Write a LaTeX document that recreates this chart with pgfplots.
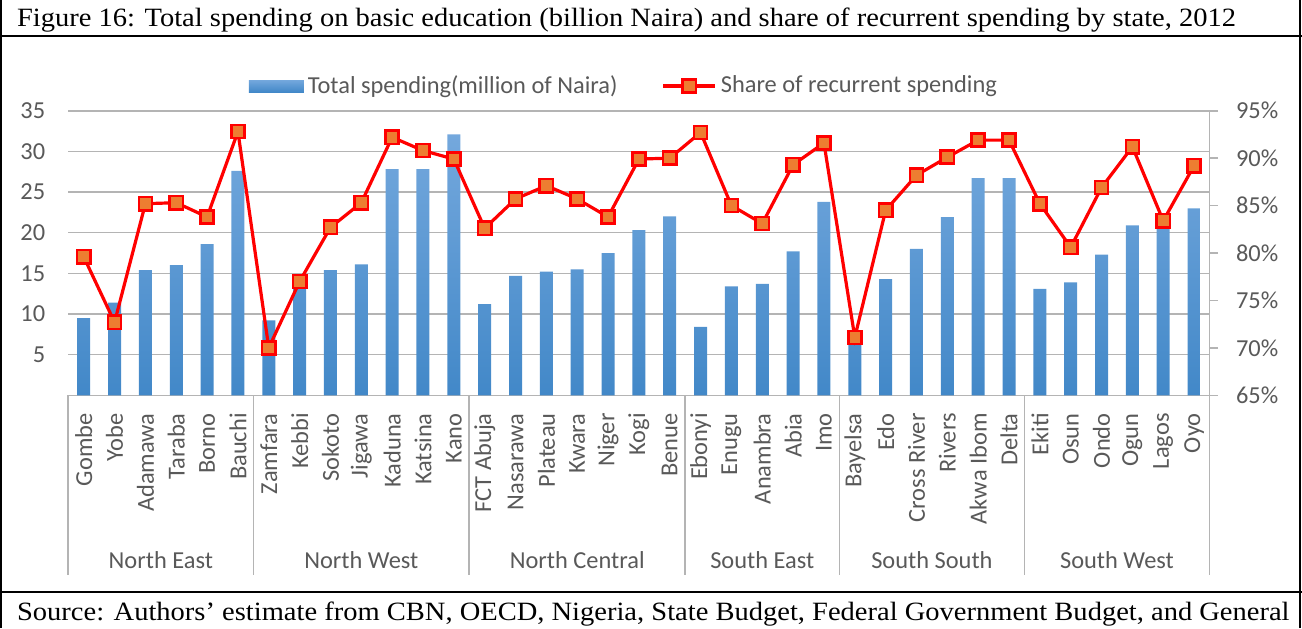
\documentclass[border=0pt]{standalone}
\usepackage{fontspec}
\setmainfont{Carlito}
\newfontfamily\serif[FakeStretch=1.08]{Liberation Serif}
\usepackage{pgfplots}
\pgfplotsset{compat=1.18}
\usepackage{pgfplotstable}

\definecolor{txt}{RGB}{89,89,89}
\definecolor{gridc}{RGB}{180,180,180}
\definecolor{bartop}{RGB}{116,168,221}
\definecolor{barmid}{RGB}{91,155,213}
\definecolor{barbot}{RGB}{66,136,200}
\definecolor{lred}{RGB}{255,0,0}
\definecolor{mkfill}{RGB}{237,125,49}

% spend: billion Naira (left axis), share: % recurrent (right axis)
\pgfplotstableread{
idx spend share
0  9.5  79.6
1  11.4 72.7
2  15.4 85.2
3  16.0 85.3
4  18.6 83.8
5  27.6 92.8
6  9.2  70.0
7  13.5 77.0
8  15.4 82.7
9  16.1 85.3
10 27.8 92.2
11 27.8 90.8
12 32.1 89.9
13 11.2 82.6
14 14.7 85.7
15 15.2 87.1
16 15.5 85.7
17 17.5 83.8
18 20.3 89.9
19 22.0 90.0
20 8.4  92.7
21 13.4 85.0
22 13.7 83.1
23 17.7 89.3
24 23.8 91.6
25 7.0  71.1
26 14.3 84.5
27 18.0 88.2
28 21.9 90.1
29 26.7 91.9
30 26.7 91.9
31 13.1 85.2
32 13.9 80.6
33 17.3 86.9
34 20.9 91.2
35 21.5 83.4
36 23.0 89.2
}\statedata

\newcommand{\cf}{\fontsize{12.2}{14}\selectfont}

\begin{document}
\begin{tikzpicture}
\useasboundingbox (0,0) rectangle (651pt,314pt);

% frame of the table cell
\draw[line width=1pt] (0.5pt,0) -- (0.5pt,314pt);
\draw[line width=1pt] (650.2pt,0) -- (650.2pt,314pt);
\draw[line width=1pt] (0,296pt) -- (651pt,296pt);
\draw[line width=1pt] (0,18.15pt) -- (651pt,18.15pt);
\node[anchor=base west, inner sep=0, font=\serif\fontsize{13.2}{15}\selectfont]
  at (8.35pt,300.65pt) {Figure 16: Total spending on basic education (billion Naira) and share of recurrent spending by state, 2012};
\node[anchor=base west, inner sep=0, font=\serif\fontsize{13.2}{15}\selectfont]
  at (8.35pt,4pt) {Source: Authors’ estimate from CBN, OECD, Nigeria, State Budget, Federal Government Budget, and General};

\begin{axis}[
  at={(34.15pt,116.35pt)}, anchor=south west,
  scale only axis, width=570.6pt, height=142.3pt,
  xmin=-0.5, xmax=36.5, ymin=0, ymax=35,
  axis x line*=bottom, axis y line*=left,
  y axis line style={draw=none},
  x axis line style={gridc, line width=0.8pt},
  ytick={5,10,...,35},
  ymajorgrids, grid style={gridc, line width=0.8pt},
  major tick length=0pt,
  xtick={0,...,36},
  xticklabels={Gombe,Yobe,Adamawa,Taraba,Borno,Bauchi,
    Zamfara,Kebbi,Sokoto,Jigawa,Kaduna,Katsina,Kano,
    FCT Abuja,Nasarawa,Plateau,Kwara,Niger,Kogi,Benue,
    Ebonyi,Enugu,Anambra,Abia,Imo,
    Bayelsa,Edo,Cross River,Rivers,Akwa Ibom,Delta,
    Ekiti,Osun,Ondo,Ogun,Lagos,Oyo},
  xticklabel shift=5.5pt,
  xticklabel style={rotate=90, anchor=east, font=\cf, text=txt},
  yticklabel style={anchor=east, xshift=-8pt, font=\cf, text=txt},
  /pgf/number format/assume math mode=true,
  clip=false,
]
\addplot[ybar, bar width=6.5pt, draw=none,
  top color=bartop, middle color=barmid, bottom color=barbot]
  table[x=idx, y=spend] {\statedata};

\draw[gridc, line width=0.8pt] (axis cs:-0.5,0) -- (axis cs:-0.5,-22.1);
\draw[gridc, line width=0.8pt] (axis cs:5.5,0) -- (axis cs:5.5,-22.1);
\draw[gridc, line width=0.8pt] (axis cs:12.5,0) -- (axis cs:12.5,-22.1);
\draw[gridc, line width=0.8pt] (axis cs:19.5,0) -- (axis cs:19.5,-22.1);
\draw[gridc, line width=0.8pt] (axis cs:24.5,0) -- (axis cs:24.5,-22.1);
\draw[gridc, line width=0.8pt] (axis cs:30.5,0) -- (axis cs:30.5,-22.1);
\draw[gridc, line width=0.8pt] (axis cs:36.5,0) -- (axis cs:36.5,-22.1);

\node[text=txt, font=\cf] at (axis cs:2.5,-20.25) {North East};
\node[text=txt, font=\cf] at (axis cs:9,-20.25) {North West};
\node[text=txt, font=\cf] at (axis cs:16,-20.25) {North Central};
\node[text=txt, font=\cf] at (axis cs:22,-20.25) {South East};
\node[text=txt, font=\cf] at (axis cs:27.5,-20.25) {South South};
\node[text=txt, font=\cf] at (axis cs:33.5,-20.25) {South West};
\end{axis}

\begin{axis}[
  at={(34.15pt,116.35pt)}, anchor=south west,
  scale only axis, width=570.6pt, height=142.3pt,
  xmin=-0.5, xmax=36.5, ymin=65, ymax=95,
  axis y line*=right, axis x line=none,
  y axis line style={gridc, line width=0.8pt},
  ytick={65,70,...,95},
  yticklabel={\pgfmathprintnumber{\tick}\%},
  tick align=outside, major tick length=4.25pt,
  tick style={gridc, line width=0.8pt},
  yticklabel style={anchor=west, xshift=5.5pt, font=\cf, text=txt},
  /pgf/number format/assume math mode=true,
  legend style={at={(0.4877,1.0868)}, anchor=center, draw=none, fill=none,
    font=\cf, text=txt, legend columns=2,
    /tikz/every even column/.append style={column sep=20pt}},
  clip=false,
]
\addlegendimage{legend image code/.code={
  \path[draw=none, top color=bartop, bottom color=barbot] (0pt,-3pt) rectangle (27.5pt,3pt);}}
\addlegendentry{Total spending(million of Naira)}
\addplot[color=lred, line width=1.6pt, mark=square*, mark size=3.3pt,
  mark options={draw=lred, fill=mkfill, line width=1.3pt, solid},
  legend image code/.code={
    \draw[mark repeat=2, mark phase=2] plot coordinates {(0pt,0pt) (13pt,0pt) (26pt,0pt)};}]
  table[x=idx, y=share] {\statedata};
\addlegendentry{Share of recurrent spending}
\end{axis}
\end{tikzpicture}
\end{document}
